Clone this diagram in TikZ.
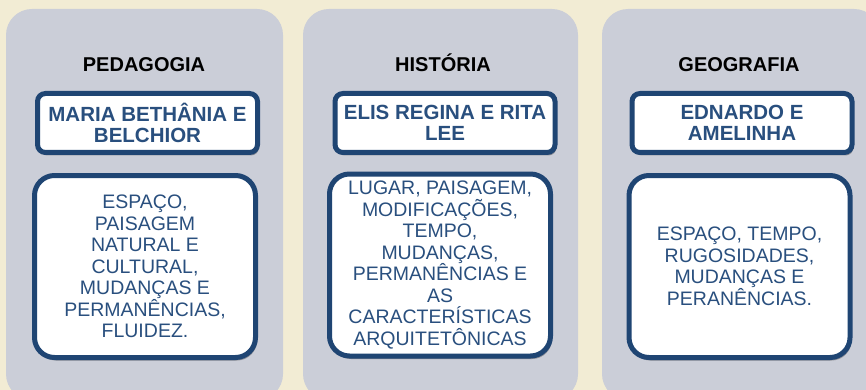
\documentclass[tikz,border=0pt]{standalone}
\usepackage{fontspec}
\setmainfont{Liberation Sans}
\usetikzlibrary{shadows}
\definecolor{creme}{HTML}{F2ECD4}
\definecolor{cinza}{HTML}{CBCED8}
\definecolor{azul}{HTML}{1F4573}
\definecolor{azultexto}{HTML}{294F7E}
\begin{document}
\begin{tikzpicture}[x=1pt, y=-1pt,
		coluna/.style={fill=cinza, rounded corners=26pt, minimum height=391pt, inner sep=0pt},
		titulo/.style={anchor=base, font=\bfseries\fontsize{20}{22}\selectfont},
		caixa/.style={draw=azul, line width=5pt, fill=white, align=center, text=azultexto, inner sep=0pt,
			drop shadow={shadow xshift=1.5pt, shadow yshift=-3pt, opacity=.3, fill=black}},
		nome/.style={caixa, rounded corners=8pt, minimum width=220pt, minimum height=59pt, font=\bfseries\fontsize{20.5}{21}\selectfont},
		conteudo/.style={caixa, rounded corners=20pt, minimum width=221pt, minimum height=182pt, font=\fontsize{19.5}{21.5}\selectfont}]
	\useasboundingbox (0,0) rectangle (866,390);
	\clip (0,0) rectangle (866,390);
	\fill[creme] (0,0) rectangle (866,390);
	\node[coluna, minimum width=277pt] (colPed) at (144.5,204.5) {};
	\node[coluna, minimum width=275pt] (colHist) at (440.5,204.5) {};
	\node[coluna, minimum width=278pt] (colGeo) at (741,204.5) {};
	\node[titulo] (tituloPed) at (144,72) {PEDAGOGIA};
	\node[titulo] (tituloHist) at (443,72) {HISTÓRIA};
	\node[titulo] (tituloGeo) at (739,72) {GEOGRAFIA};
	\node[nome] (nomePed) at (147.5,123) {MARIA BETHÂNIA E\\BELCHIOR};
	\node[nome] (nomeHist) at (445,123) {ELIS REGINA E RITA\\LEE};
	\node[nome] (nomeGeo) at (742,123) {EDNARDO E\\AMELINHA};
	\node[conteudo] (temaPed) at (145,266.5) {ESPAÇO,\\PAISAGEM\\NATURAL  E\\CULTURAL,\\MUDANÇAS  E\\PERMANÊNCIAS,\\FLUIDEZ.};
	\node[conteudo] (temaHist) at (440,265) {LUGAR, PAISAGEM,\\MODIFICAÇÕES,\\TEMPO,\\MUDANÇAS,\\PERMANÊNCIAS  E\\AS\\CARACTERÍSTICAS\\ARQUITETÔNICAS};
	\node[conteudo] (temaGeo) at (739.5,266.5) {ESPAÇO, TEMPO,\\RUGOSIDADES,\\MUDANÇAS  E\\PERANÊNCIAS.};
\end{tikzpicture}
\end{document}
